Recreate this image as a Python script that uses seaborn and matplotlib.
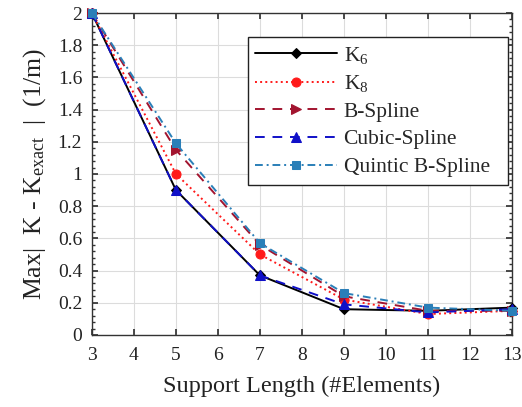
import matplotlib
matplotlib.use("Agg")
import matplotlib.pyplot as plt
import seaborn as sns
import pandas as pd
from matplotlib.ticker import MultipleLocator, FixedLocator, FuncFormatter

sns.set_theme(style="whitegrid")
plt.rcParams["font.family"] = "serif"
plt.rcParams["font.serif"] = ["Liberation Serif", "DejaVu Serif"]
plt.rcParams["mathtext.fontset"] = "custom"
plt.rcParams["mathtext.rm"] = "Liberation Serif"
plt.rcParams["mathtext.it"] = "Liberation Serif:italic"

support_length = [3, 5, 7, 9, 11, 13]
k6 = [2.0, 0.90, 0.37, 0.16, 0.15, 0.17]
k8 = [2.0, 1.00, 0.50, 0.22, 0.13, 0.15]
b_spline = [2.0, 1.15, 0.56, 0.24, 0.15, 0.15]
cubic_spline = [2.0, 0.90, 0.37, 0.19, 0.14, 0.16]
quintic_b_spline = [2.0, 1.19, 0.57, 0.26, 0.17, 0.15]

y_ticks = [0, 0.2, 0.4, 0.6, 0.8, 1.0, 1.2, 1.4, 1.6, 1.8, 2.0]

series = [
    ("K$_6$", k6, "black", "-", "D", 5),
    ("K$_8$", k8, "#ff1a1a", ":", "o", 6.5),
    ("B-Spline", b_spline, "#a2142f", (0, (5, 4)), ">", 6.5),
    ("Cubic-Spline", cubic_spline, "#1010c8", (0, (5, 4)), "^", 6.5),
    ("Quintic B-Spline", quintic_b_spline, "#2a7fb8", (0, (4, 2, 1, 2)), "s", 6),
]

fig = plt.figure(figsize=(5.22, 4.07), dpi=100)
ax = fig.add_axes([0.176, 0.177, 0.805, 0.791])

for label, vals, color, ls, mk, ms in series:
    df = pd.DataFrame({"x": support_length, "y": vals})
    sns.lineplot(data=df, x="x", y="y", ax=ax, color=color, linestyle=ls,
                 marker=mk, markersize=ms, markeredgecolor=color,
                 linewidth=1.4, label=label, clip_on=False, zorder=3)

ax.set_xlim(3, 13)
ax.set_ylim(0, 2)
ax.xaxis.set_major_locator(FixedLocator(list(range(3, 14))))
ax.yaxis.set_major_locator(FixedLocator(y_ticks))
ax.yaxis.set_major_formatter(FuncFormatter(lambda v, p: f"{v:g}"))
ax.yaxis.set_minor_locator(MultipleLocator(0.04))

ax.grid(True, which="major", color="#dcdcdc", linewidth=0.8)
ax.grid(False, which="minor")
ax.set_facecolor("white")
for sp in ax.spines.values():
    sp.set_color("#333333")
    sp.set_linewidth(1.0)

ax.tick_params(axis="both", which="major", direction="in", length=4,
               color="#333333", labelsize=14, labelcolor="#222222",
               top=True, right=True, bottom=True, left=True)
ax.tick_params(axis="x", which="major", pad=9)
ax.tick_params(axis="y", which="major", pad=7)
ax.tick_params(axis="y", which="minor", direction="in", length=2,
               color="#333333", left=True, right=True)

ax.set_xlabel("Support Length (#Elements)", fontsize=17.5, color="#222222", labelpad=8)
ax.set_ylabel("Max|  K - K$_{\\mathrm{exact}}$  |  (1/m)", fontsize=18.5,
              color="#222222", labelpad=7)

leg = ax.legend(loc="upper left", bbox_to_anchor=(0.371, 0.925, 0.619, 0.0),
                mode="expand", fontsize=15.5,
                frameon=True, fancybox=False, edgecolor="#222222",
                handlelength=3.8, handletextpad=0.3, labelspacing=0.35,
                borderpad=0.35, borderaxespad=0.0)
leg.get_frame().set_linewidth(1.0)
leg.get_frame().set_facecolor("white")
leg.get_frame().set_alpha(1)

fig.savefig("out.png", dpi=100)
